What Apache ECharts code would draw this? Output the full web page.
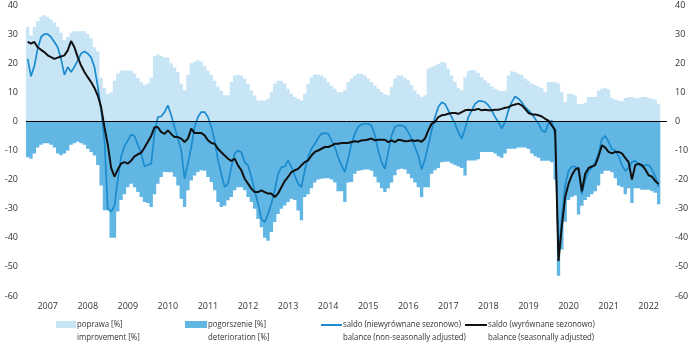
<!DOCTYPE html>
<html>
<head>
<meta charset="utf-8">
<script src="https://cdn.jsdelivr.net/npm/echarts@6/dist/echarts.min.js"></script>
<style>
  html, body { margin: 0; padding: 0; background: #fff; }
  #chart { width: 700px; height: 350px; }
</style>
</head>
<body>
<div id="chart"></div>
<script>
// year tick labels
var years = ['2007', '2008', '2009', '2010', '2011', '2012', '2013', '2014',
  '2015', '2016', '2017', '2018', '2019', '2020', '2021', '2022'];

// monthly categories, Jan 2007 - Dec 2022
var months = [];
years.forEach(function (y) {
  for (var m = 1; m <= 12; m++) {
    months.push(y + '-' + (m < 10 ? '0' + m : m));
  }
});

// poprawa / improvement [%]
var improvement = [
  32.5, 29.5, 32.5, 34.5, 36, 36.5, 36, 35, 34, 32.5, 30.5, 28,
  29, 30.5, 31, 31, 31, 31, 30, 28.5, 25.5, 24, 15, 11.5,
  9.5, 10, 14, 16.5, 17.5, 17.5, 17.5, 17.5, 16.5, 15, 13.5, 12.5,
  13, 15, 22.5, 23, 22.5, 22, 22, 20, 18.5, 17, 12.9, 10.7,
  16, 20, 20.5, 21, 20.5, 19, 17.5, 16, 14, 12, 10.5, 9,
  9, 13.5, 15.8, 16, 15.8, 14.7, 12.9, 10.7, 8.9, 7.2, 7.2, 7.2,
  7.8, 10, 12.9, 14, 14, 13, 11.2, 9.5, 8.4, 7.8, 7.2, 9.5,
  12.9, 15.2, 16.1, 16.1, 15.8, 15, 13.5, 12.3, 11.2, 10, 10, 10.7,
  13.5, 14.7, 15.8, 16.4, 16.4, 15.8, 14.7, 13.5, 12.3, 11.2, 10.1, 9.3,
  9, 11.8, 14.7, 15.8, 15.8, 15, 14.1, 12.3, 10.7, 9.3, 8.4, 9,
  18.1, 18.7, 19.2, 19.8, 20.4, 20.2, 18.1, 15.8, 13.5, 11.6, 10.7, 15.2,
  17.3, 17.7, 17.5, 16.6, 15.2, 14.1, 13.2, 12.1, 11.2, 10.7, 10.4, 10.5,
  15.8, 17.2, 17, 16.4, 16, 14.7, 14, 13, 12.5, 12, 11.5, 10,
  13.5, 13.5, 13.5, 13, 10, 6.6, 9.5, 9.5, 9, 6, 6, 6.5,
  8.4, 8.4, 8.4, 10.5, 11.2, 11.5, 11, 8, 7.5, 7.2, 7, 8,
  8.4, 8.4, 8, 8, 8.4, 8.4, 8, 7.8, 7.5, 6
];

// pogorszenie / deterioration [%]
var deterioration = [
  -12.3, -12.8, -11, -9, -8, -7.5, -7.5, -8, -9, -11, -11.6, -11,
  -10, -8, -7.5, -7, -7.5, -8, -9.4, -10.5, -11.7, -15, -22, -30.5,
  -30.5, -40, -40, -31, -27, -25, -22.6, -21.4, -22.6, -24.3, -26, -27.7,
  -28, -29.4, -25, -21.4, -19.1, -17.4, -17.5, -17.5, -19, -22, -26.6, -29.4,
  -23.7, -20.3, -18.6, -17.4, -16.8, -17, -19.1, -20.8, -23.7, -27.7, -29.4, -29,
  -27.1, -26, -23.7, -22.6, -22.6, -23.7, -26, -27.7, -30, -33.5, -36.4, -40,
  -41, -38, -34.6, -31.8, -30, -28.9, -27.7, -26.6, -27, -30.6, -34, -26,
  -25, -23, -21, -20, -19.7, -19.5, -19.5, -20, -21, -24, -24, -27.7,
  -21, -20.8, -18, -17, -16.8, -16.5, -16.5, -17, -19, -21, -23, -24.3,
  -23, -21, -18.5, -16.5, -16.3, -16.5, -18, -19.5, -21, -22.6, -26, -22.6,
  -22.6, -18, -16.8, -16, -14, -13.9, -13.9, -14.5, -15, -15.5, -16, -18.6,
  -13.4, -13.4, -13.4, -13, -10.5, -10.5, -10.5, -10.5, -11, -12, -12.5, -11,
  -9.4, -9.4, -9.4, -9, -9, -9, -9.5, -11, -12, -12.5, -13.5, -13.5,
  -13.5, -14, -20, -53, -44, -34.5, -27, -26, -25.5, -32, -29, -27,
  -26, -25, -24, -22, -18, -17, -17, -17.5, -19.5, -22, -22.5, -25,
  -23, -28, -23, -23, -23.5, -23.5, -23.5, -24, -24.5, -28.5
];

// saldo (niewyrównane sezonowo) / balance (non-seasonally adjusted)
var balanceNsa = [
  21.5, 15.5, 19, 25, 29, 30, 30, 29, 27.3, 25.5, 21.5, 16,
  18.7, 17, 18.7, 21, 23.3, 24, 23.3, 22, 18.7, 12, 4, -6.5,
  -30, -31, -29, -20, -12, -8.5, -6.5, -4.5, -5, -8, -11, -15.5,
  -15, -14.5, -4, 1.5, 1.7, 3.2, 5.5, 2.1, -1.9, -5.9, -10, -19.7,
  -14.5, -8.8, -1.9, 1.5, 3.2, 3.2, 1.5, -1.9, -6.5, -13.4, -18, -22.6,
  -21.4, -15.7, -11.1, -10, -10.6, -14, -15.1, -19.1, -23.7, -28.3, -33.5, -34.6,
  -31.8, -28.3, -23.7, -18, -15.7, -15.5, -13.4, -15.7, -18.6, -21.4, -22.6, -16.8,
  -12.3, -9.4, -7.7, -5.7, -4.2, -4, -4.2, -6.5, -8.8, -12.3, -15.1, -17.4,
  -12.8, -7.7, -4.2, -1.9, -1, -0.8, -0.8, -1.4, -4.8, -10, -14, -16.3,
  -10.5, -4.8, -1.9, -1.4, -1.4, -1.9, -3.7, -6, -8.8, -11.7, -16.5, -13,
  -8.2, -3.1, 1.5, 4.9, 6.6, 6, 3.8, 1.5, -0.8, -3.7, -6, -2.5,
  1.5, 3.8, 6, 7, 7, 6.6, 5.5, 3.8, 1.5, -0.2, -2.5, -0.2,
  3.8, 6.6, 8.6, 7.8, 6.6, 4.9, 3.8, 2.6, 0.9, -0.8, -3.1, -3.7,
  -0.8, 0.3, -5, -46, -33, -22, -17, -15.5, -15.5, -17, -25, -20,
  -17, -16, -14, -11, -6, -5, -7, -9.5, -10, -12, -15, -17,
  -16, -14, -13.5, -15, -15.5, -15, -15, -16.5, -19, -22.5
];

// saldo (wyrównane sezonowo) / balance (seasonally adjusted)
var balanceSa = [
  27.3, 26.7, 27.3, 25.5, 24.6, 23.8, 22.7, 22.1, 21.5, 21.9, 22.3, 22.7,
  24.4, 27.6, 25.5, 22.1, 19.2, 17, 15.2, 13.5, 11.5, 8.9, 4.9, -2,
  -8, -16, -19, -16.5, -14.5, -14, -14.5, -13.5, -12, -11.3, -10.8, -9,
  -7, -5, -2, -2, -3.7, -4.3, -3.1, -4.3, -5.4, -5.4, -5.9, -7.1,
  -5.9, -2.5, -4, -4, -4, -4.8, -6.5, -7.4, -7.7, -9.4, -10.6, -11.7,
  -12.8, -13.6, -12.8, -15.1, -16.8, -19.7, -21.4, -23.1, -24.3, -24.3, -23.7, -24.3,
  -24.8, -24.8, -26, -24.8, -22.6, -20.5, -19.1, -17.4, -16.8, -16.3, -15.1, -14,
  -13.4, -11.7, -10.5, -10, -9.4, -8.8, -8.8, -8.3, -7.7, -7.7, -7.4, -7.4,
  -7.4, -7.1, -6.8, -7, -6.5, -6.5, -6.2, -5.9, -6.5, -6.3, -6.3, -6.3,
  -7.1, -6.5, -7.1, -6.3, -6.5, -6.8, -6.7, -6.5, -6.7, -6.5, -7, -5.9,
  -3.1, -0.8, -0.2, 1.5, 2.1, 2.3, 2.6, 2.9, 2.9, 2.6, 3.2, 3.8,
  4, 3.8, 4, 4.3, 3.8, 4, 3.8, 3.8, 4, 4, 4.3, 4.7,
  4.9, 5.5, 5.8, 6.1, 5.5, 4.3, 2.9, 2.4, 2.4, 2.1, 1.7, 0.9,
  0.3, -1.4, -3, -48, -36, -26, -21.5, -18.5, -16.5, -16, -24, -18,
  -16, -15.5, -15, -12, -8.2, -9, -10.5, -11, -10.5, -10.5, -11, -12.5,
  -14, -20, -15, -14.5, -15, -16.5, -18.5, -19, -20.5, -21.5
];

var colors = ['#c8e5f6', '#62b6e3', '#1b8bcd', '#111111'];
var textColor = '#333';
var fontFamily = '"Open Sans", "Noto Sans", sans-serif';

var chart = echarts.init(document.getElementById('chart'), null, { renderer: 'canvas' });

var yAxisBase = {
  type: 'value',
  min: -60,
  max: 40,
  interval: 10,
  axisLine: { show: false },
  axisTick: { show: false },
  splitLine: { show: false },
  axisLabel: { color: textColor, fontSize: 9, fontFamily: fontFamily, margin: 8 }
};

// legend text is condensed in the original, squeeze it a bit
function legendLabel(x, txt) {
  return {
    type: 'text', x: x, y: 318, scaleX: 0.82,
    style: { text: txt, fill: textColor, fontSize: 9.5, fontFamily: fontFamily, lineHeight: 13 }
  };
}

var option = {
  animation: false,
  grid: { left: 26, right: 33, top: 5, bottom: 54 },
  xAxis: {
    type: 'category',
    data: months,
    axisLine: { show: false, onZero: false },
    axisTick: { show: false },
    axisLabel: {
      interval: function (index) { return index % 12 === 6; },
      formatter: function (v) { return v.slice(0, 4); },
      color: textColor,
      fontSize: 9,
      fontFamily: fontFamily,
      margin: 6
    }
  },
  yAxis: [
    Object.assign({ position: 'left' }, yAxisBase),
    Object.assign({ position: 'right' }, yAxisBase)
  ],
  series: [
    {
      name: 'poprawa [%]',
      type: 'bar',
      data: improvement,
      large: true,
      largeThreshold: 50,
      barGap: '-100%',
      barCategoryGap: '0%',
      itemStyle: { color: colors[0] }
    },
    {
      name: 'pogorszenie [%]',
      type: 'bar',
      data: deterioration,
      large: true,
      largeThreshold: 50,
      barGap: '-100%',
      barCategoryGap: '0%',
      itemStyle: { color: colors[1] }
    },
    {
      name: 'saldo (niewyrównane sezonowo)',
      type: 'line',
      data: balanceNsa,
      symbol: 'none',
      lineStyle: { color: colors[2], width: 1.7 }
    },
    {
      name: 'saldo (wyrównane sezonowo)',
      type: 'line',
      data: balanceSa,
      symbol: 'none',
      lineStyle: { color: colors[3], width: 2 },
      markLine: {
        silent: true,
        symbol: 'none',
        label: { show: false },
        lineStyle: { color: '#000', width: 1, type: 'solid' },
        data: [{ yAxis: 0 }]
      }
    }
  ],
  graphic: [
    { type: 'rect', left: 56, top: 321, shape: { width: 20, height: 7 }, style: { fill: colors[0] } },
    legendLabel(77, 'poprawa [%]\nimprovement [%]'),
    { type: 'rect', left: 185, top: 321, shape: { width: 22, height: 7 }, style: { fill: colors[1] } },
    legendLabel(208, 'pogorszenie [%]\ndeterioration [%]'),
    { type: 'rect', left: 321, top: 324, shape: { width: 21, height: 2 }, style: { fill: colors[2] } },
    legendLabel(343, 'saldo (niewyrównane sezonowo)\nbalance (non-seasonally adjusted)'),
    { type: 'rect', left: 465, top: 324, shape: { width: 22, height: 2 }, style: { fill: colors[3] } },
    legendLabel(488, 'saldo (wyrównane sezonowo)\nbalance (seasonally adjusted)')
  ]
};

chart.setOption(option);
</script>
</body>
</html>
